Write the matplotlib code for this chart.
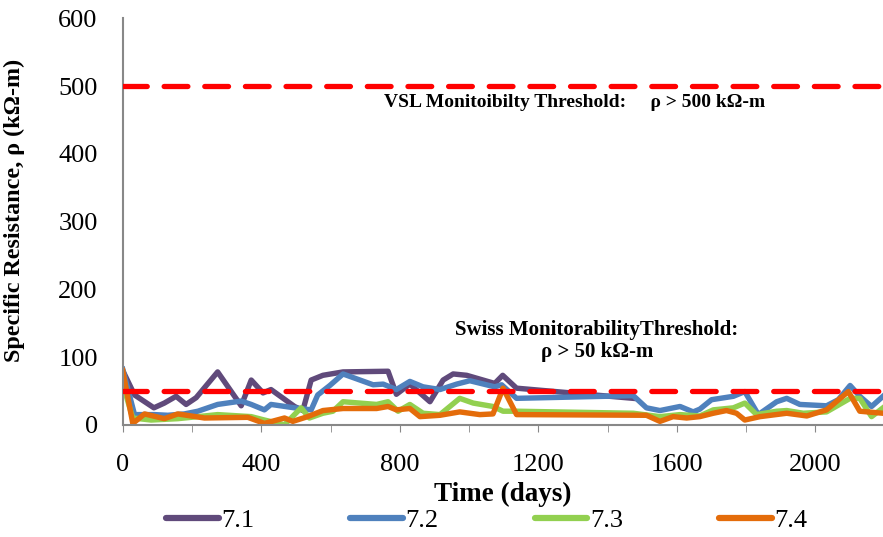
import matplotlib.pyplot as plt
from matplotlib.ticker import MultipleLocator

plt.rcParams['font.family'] = ['Liberation Serif', 'DejaVu Serif']

# series 7.1
days_71 = [0, 34, 90, 120, 154, 183, 212, 274, 342, 371, 405, 428, 496, 520, 544, 578,
           636, 766, 790, 829, 887, 925, 954, 993, 1074, 1097, 1137, 1474]
rho_71 = [80, 44, 25, 32, 42, 30, 40, 78, 28, 66, 47, 52, 27, 21, 66, 73,
          78, 79, 45, 60, 34, 66, 75, 73, 61, 73, 54, 39]

# series 7.2
days_72 = [0, 34, 92, 130, 178, 217, 274, 342, 371, 409, 428, 496, 544, 563, 598,
           636, 723, 752, 790, 829, 867, 916, 964, 1002, 1074, 1094, 1137, 1474,
           1512, 1551, 1609, 1647, 1666, 1700, 1763, 1796, 1835, 1888, 1917, 1955,
           2032, 2066, 2100, 2128, 2162, 2195]
rho_72 = [82, 15, 15, 14, 16, 20, 30, 35, 30, 22, 30, 25, 22, 44, 58,
          75, 59, 60, 52, 64, 56, 52, 60, 65, 56, 59, 39, 43,
          25, 21, 27, 19, 23, 37, 42, 49, 15, 34, 39, 30,
          28, 37, 58, 42, 27, 42]

# series 7.3
days_73 = [0, 29, 82, 159, 274, 371, 409, 467, 515, 539, 578, 607, 636, 733, 766,
           795, 829, 867, 916, 973, 1012, 1069, 1098, 1137, 1474, 1551, 1609, 1666,
           1705, 1763, 1796, 1830, 1888, 1917, 1965, 2032, 2100, 2128, 2162, 2195]
rho_73 = [60, 10, 7, 9, 15, 12, 7, 0, 25, 10, 17, 20, 34, 30, 34,
          20, 30, 17, 15, 39, 32, 27, 20, 20, 17, 12, 15, 13,
          22, 25, 32, 15, 20, 21, 17, 19, 39, 39, 12, 25]

# series 7.4
days_74 = [0, 29, 63, 120, 159, 236, 361, 409, 467, 491, 534, 578, 636, 733, 766,
           790, 829, 858, 916, 973, 1031, 1069, 1098, 1137, 1512, 1551, 1589, 1628,
           1666, 1705, 1743, 1772, 1796, 1840, 1917, 1975, 2032, 2095, 2128, 2195]
rho_74 = [80, 2, 16, 9, 16, 10, 11, 2, 10, 5, 12, 21, 24, 24, 27,
          22, 24, 12, 14, 19, 15, 16, 54, 15, 14, 5, 12, 10,
          12, 17, 21, 17, 7, 12, 17, 13, 22, 49, 20, 17]

labels = ['7.1', '7.2', '7.3', '7.4']
colors = ['#604A7B', '#4F81BD', '#92D050', '#E46C0A']
thresholds = [500, 50]

fig = plt.figure(figsize=(8.83, 5.37), dpi=100)
ax = fig.add_axes([0.139, 0.209, 0.861, 0.757])

series = [(days_71, rho_71), (days_72, rho_72), (days_73, rho_73), (days_74, rho_74)]
for (d, r), lab, c in zip(series, labels, colors):
    ax.plot(d, r, color=c, lw=3.9, label=lab, solid_joinstyle='round')

for t in thresholds:
    ax.axhline(t, color='#FF0000', lw=3.8, dashes=(4.5, 3.2), dash_capstyle='round', zorder=5)

ax.text(1305, 475, 'VSL Monitoibilty Threshold:     \u03c1 > 500 k\u03a9-m',
        ha='center', va='center', fontsize=14, fontweight='bold')
ax.text(1369, 124, 'Swiss MonitorabilityThreshold:\n\u03c1 > 50 k\u03a9-m',
        ha='center', va='center', fontsize=15, fontweight='bold', linespacing=1.1)

ax.set_xlim(0, 2195)
ax.set_ylim(0, 600)
ax.xaxis.set_major_locator(MultipleLocator(400))
ax.xaxis.set_minor_locator(MultipleLocator(200))
ax.yaxis.set_major_locator(MultipleLocator(100))
ax.tick_params(axis='x', which='both', direction='out', length=5, color='#888888',
               labelsize=19, pad=16)
ax.tick_params(axis='y', length=0, labelsize=19, pad=18)
for s in ['top', 'right']:
    ax.spines[s].set_visible(False)
for s in ['left', 'bottom']:
    ax.spines[s].set_color('#888888')
    ax.spines[s].set_linewidth(1.5)

ax.set_xlabel('Time (days)', fontsize=19.5, fontweight='bold', labelpad=4)
ax.set_ylabel('Specific Resistance, \u03c1 (k\u03a9-m)', fontsize=17.4, fontweight='bold')
ax.yaxis.set_label_coords(-0.128, 0.528)

leg = fig.legend(loc='lower center', bbox_to_anchor=(0.551, -0.035), ncol=4, frameon=False,
                 fontsize=19, handlelength=2.0, columnspacing=3.63, handletextpad=0.1)
for h in leg.get_lines():
    h.set_linewidth(4.5)
    h.set_solid_capstyle('round')

fig.savefig('out.png', dpi=100)
